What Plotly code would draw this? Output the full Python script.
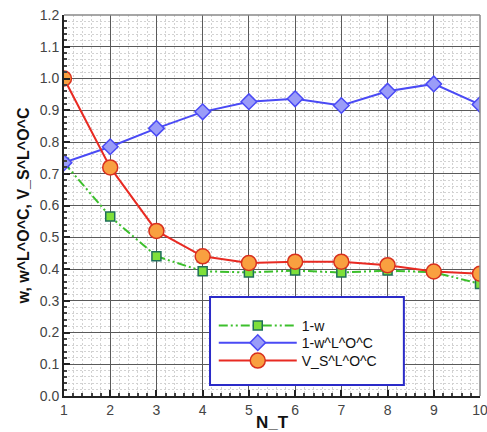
import plotly.graph_objects as go

n_t = [1, 2, 3, 4, 5, 6, 7, 8, 9, 10]
one_minus_w = [0.735, 0.565, 0.44, 0.393, 0.389, 0.395, 0.389, 0.395, 0.39, 0.353]
one_minus_w_loc = [0.735, 0.785, 0.843, 0.895, 0.927, 0.936, 0.915, 0.96, 0.983, 0.918]
v_s_loc = [1.0, 0.72, 0.52, 0.44, 0.419, 0.423, 0.423, 0.412, 0.392, 0.385]

fig = go.Figure()
fig.add_trace(go.Scatter(
    x=n_t, y=one_minus_w, name="1-w", mode="lines+markers", legend="legend",
    line=dict(color="#3cbf2c", width=2, dash="9px,3px,2px,3px,2px,3px"),
    marker=dict(symbol="square", size=9, color="#7ee03a", line=dict(color="#1f6f5a", width=1.5)),
))
fig.add_trace(go.Scatter(
    x=n_t, y=one_minus_w_loc, name="1-w^L^O^C", mode="lines+markers", legend="legend2",
    line=dict(color="#4a4af5", width=2),
    marker=dict(symbol="diamond", size=12, color="#9a9cf8", line=dict(color="#4a4af5", width=1.5)),
))
fig.add_trace(go.Scatter(
    x=n_t, y=v_s_loc, name="V_S^L^O^C", mode="lines+markers", legend="legend3",
    line=dict(color="#e82a22", width=2),
    marker=dict(symbol="circle", size=15, color="#f9a040", line=dict(color="#d8301e", width=1.5)),
))

ff = "Liberation Sans, Arial, sans-serif"
axis_font = dict(family=ff, size=14, color="#444444")

fig.update_xaxes(
    range=[1, 10], dtick=1, tick0=1, automargin=False,
    showline=True, linecolor="#222222", linewidth=2,
    ticks="inside", ticklen=6, tickcolor="#222222", tickwidth=1.5,
    showgrid=True, gridcolor="#5a5a5a", gridwidth=1,
    minor=dict(dtick=0.2, showgrid=True, gridcolor="#d2d2d2", griddash="2px,2px", ticks="inside", ticklen=3, tickcolor="#444444"),
    tickfont=axis_font, zeroline=False, ticklabeloverflow="allow",
    title=dict(text="<b>N_T</b>", font=dict(family=ff, size=17, color="#111111"), standoff=3),
)
fig.update_yaxes(
    range=[0, 1.2], dtick=0.1, tickformat=".1f", automargin=False,
    showline=True, linecolor="#222222", linewidth=2,
    ticks="inside", ticklen=6, tickcolor="#222222", tickwidth=1.5,
    showgrid=True, gridcolor="#5a5a5a", gridwidth=1,
    minor=dict(dtick=0.02, showgrid=True, gridcolor="#d2d2d2", griddash="2px,2px", ticks="inside", ticklen=3, tickcolor="#444444"),
    tickfont=axis_font, zeroline=False,
    title=dict(text="<b>w, w^L^O^C, V_S^L^O^C</b>", font=dict(family=ff, size=16, color="#111111"), standoff=6),
)

# light frame on top and right
fig.add_shape(type="line", xref="paper", yref="paper", x0=0, x1=1, y0=1, y1=1, line=dict(color="#888888", width=1.5))
fig.add_shape(type="line", xref="paper", yref="paper", x0=1, x1=1, y0=0, y1=1, line=dict(color="#888888", width=1.5))
# legend frame
fig.add_shape(type="rect", xref="paper", yref="paper", x0=0.351, x1=0.817, y0=0.029, y1=0.26,
              fillcolor="white", line=dict(color="#2b2bc8", width=2), layer="above")

leg_common = dict(x=0.36, xanchor="left", yanchor="middle", bgcolor="rgba(0,0,0,0)", borderwidth=0,
                  font=dict(family=ff, size=14, color="#111111"), itemwidth=78)

fig.update_layout(
    width=487, height=432,
    margin=dict(l=64, r=7, t=15, b=36, autoexpand=False),
    paper_bgcolor="white", plot_bgcolor="white",
    showlegend=True,
    legend=dict(y=0.1837, **leg_common),
    legend2=dict(y=0.139, **leg_common),
    legend3=dict(y=0.0919, **leg_common),
)

fig.write_html("out.html")
